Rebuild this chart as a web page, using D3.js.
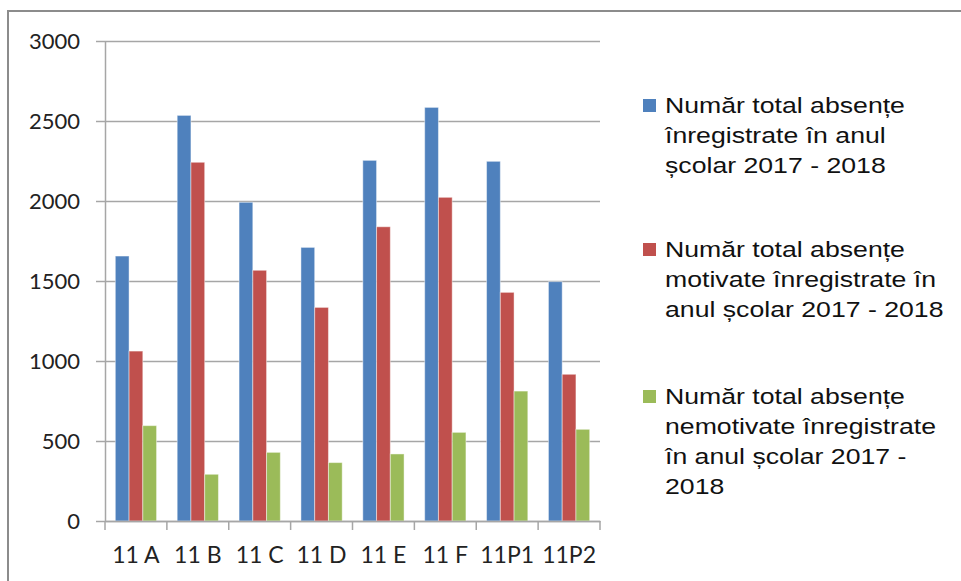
<!DOCTYPE html>
<html><head><meta charset="utf-8">
<script src="https://cdn.jsdelivr.net/npm/d3@7"></script>
<style>body{margin:0;background:#fff;}svg{display:block;}</style>
</head><body>
<svg id="c" width="961" height="581"></svg>
<script>
const categories = ["11 A","11 B","11 C","11 D","11 E","11 F","11P1","11P2"];
const totalAbs = [1656,2535,1992,1710,2254,2585,2248,1496];
const motivate = [1062,2242,1567,1335,1839,2023,1429,917];
const nemotivate = [596,292,429,365,419,554,812,573];
const yTicks = [0,500,1000,1500,2000,2500,3000];
const seriesNames = [
  ["Număr total absențe","înregistrate în anul","școlar 2017 - 2018"],
  ["Număr total absențe","motivate înregistrate în","anul școlar 2017 - 2018"],
  ["Număr total absențe","nemotivate înregistrate","în anul școlar 2017 -","2018"]
];
const colors = ["#4F81BD","#C0504D","#9BBB59"];
const seriesVals = [totalAbs, motivate, nemotivate];

const svg = d3.select("#c");
// frame
svg.append("line").attr("x1",8).attr("x2",961).attr("y1",11).attr("y2",11).attr("stroke","#8c8c8c").attr("stroke-width",2);
svg.append("line").attr("x1",8).attr("x2",8).attr("y1",10).attr("y2",581).attr("stroke","#8c8c8c").attr("stroke-width",2);

const L=105,R=600,T=41,B=521;
const x = d3.scaleBand().domain(categories).range([L,R]).paddingInner(0).paddingOuter(0);
const y = d3.scaleLinear().domain([0,3000]).range([B,T]);
const xs = d3.scaleBand().domain([0,1,2]).range([0,x.bandwidth()]).paddingInner(0).paddingOuter(0.75);

// gridlines & y axis
const ya = d3.axisLeft(y).tickValues(yTicks).tickFormat(d3.format("d")).tickSize(9).tickSizeOuter(0).tickPadding(16);
const gy = svg.append("g").attr("transform",`translate(${L},0)`).call(ya);
gy.select(".domain").attr("stroke","#a6a6a6").attr("stroke-width",1.5);
gy.selectAll(".tick line").attr("stroke","#a6a6a6").attr("stroke-width",1.5).attr("x2",R-L).attr("x1",-9);
gy.selectAll(".tick text").attr("font-family","Lato").attr("font-size",22).attr("fill","#222");

// bars
categories.forEach((c,i)=>{
  seriesVals.forEach((vals,s)=>{
    svg.append("rect")
      .attr("x",x(c)+xs(s)).attr("width",xs.bandwidth())
      .attr("y",y(vals[i])).attr("height",y(0)-y(vals[i]))
      .attr("fill",colors[s]).attr("stroke","rgba(255,255,255,0.45)").attr("stroke-width",1);
  });
});

// x axis
const xa = d3.axisBottom(x).tickSize(0).tickPadding(26);
const gx = svg.append("g").attr("transform",`translate(0,${B})`).call(xa);
gx.select(".domain").attr("stroke","#a6a6a6").attr("stroke-width",1.5);
gx.selectAll(".tick text").attr("font-family","Lato").attr("font-size",23).attr("fill","#222");
const edges = categories.map(c=>x(c)).concat([R]);
gx.selectAll(".edge").data(edges).enter().append("line")
  .attr("x1",d=>d).attr("x2",d=>d).attr("y1",0).attr("y2",9)
  .attr("stroke","#a6a6a6").attr("stroke-width",1.5);

// legend
const starts=[106,250,397];
seriesNames.forEach((lines,s)=>{
  const g = svg.append("g");
  g.append("rect").attr("x",643).attr("y",starts[s]-7).attr("width",13).attr("height",13).attr("fill",colors[s]);
  const t = g.append("text").attr("font-family","Liberation Sans, Arial").attr("font-size",21.5).attr("fill","#111")
    .attr("transform","translate(665,0) scale(1.24,1)");
  lines.forEach((ln,k)=>{
    t.append("tspan").attr("x",0).attr("y",starts[s]+7.5+k*29.7).text(ln);
  });
});
</script>
</body></html>
